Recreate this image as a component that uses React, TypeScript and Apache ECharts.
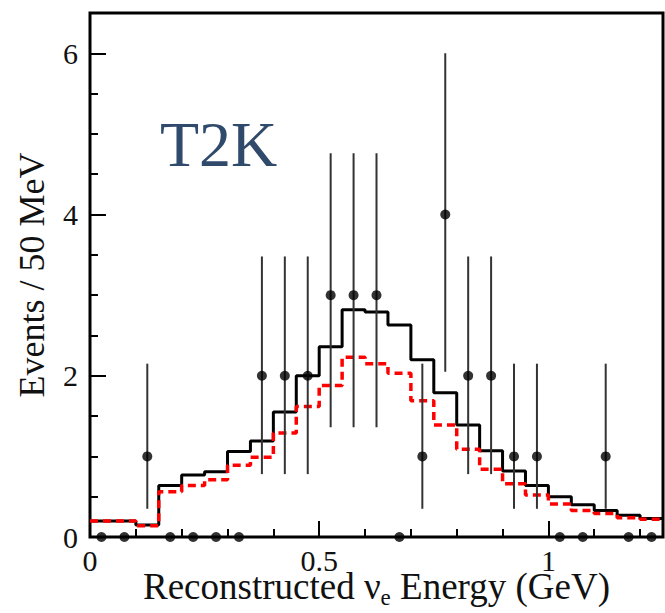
import React, { useEffect, useRef } from "react";
import * as echarts from "echarts";

// Bin edges of the 50 MeV bins (GeV)
const binEdges = [
  0, 0.05, 0.1, 0.15, 0.2, 0.25, 0.3, 0.35, 0.4, 0.45, 0.5, 0.55, 0.6, 0.65,
  0.7, 0.75, 0.8, 0.85, 0.9, 0.95, 1.0, 1.05, 1.1, 1.15, 1.2, 1.25,
];
// Total expectation (black solid histogram)
const totalExpected = [
  0.2, 0.2, 0.15, 0.64, 0.77, 0.81, 1.06, 1.19, 1.55, 2.0, 2.36, 2.82, 2.79,
  2.63, 2.2, 1.79, 1.39, 1.07, 0.82, 0.64, 0.5, 0.4, 0.33, 0.27, 0.23,
];
// Signal expectation (red dashed histogram)
const signalExpected = [
  0.2, 0.2, 0.14, 0.56, 0.64, 0.71, 0.89, 0.99, 1.29, 1.62, 1.88, 2.23, 2.15,
  2.03, 1.69, 1.39, 1.09, 0.84, 0.66, 0.52, 0.41, 0.33, 0.29, 0.24, 0.22,
];
// Observed events per bin
const observed = [
  0, 0, 1, 0, 0, 0, 0, 2, 2, 2, 3, 3, 3, 0, 1, 4, 2, 2, 1, 1, 0, 0, 1, 0, 0,
];
// Error bar ends for observed counts 1..4
const countValues = [1, 2, 3, 4];
const errLowByCount = [0.35, 0.78, 1.36, 2.05];
const errHighByCount = [2.15, 3.48, 4.76, 6.0];

const xMajorTicks = [0, 0.5, 1];
const xMinorTicks = [0.1, 0.2, 0.3, 0.4, 0.6, 0.7, 0.8, 0.9, 1.1, 1.2];
const yMajorTicks = [0, 2, 4, 6];
const yMinorTicks = [0.5, 1, 1.5, 2.5, 3, 3.5, 4.5, 5, 5.5];

const SERIF = '"Liberation Serif", "Times New Roman", serif';

function stepData(values: number[]) {
  return binEdges.map((x, i) => [x, values[Math.min(i, values.length - 1)]]);
}

export default function App() {
  const ref = useRef<HTMLDivElement>(null);

  useEffect(() => {
    document.body.style.margin = "0";
    if (!ref.current) return;
    const chart = echarts.init(ref.current, undefined, { renderer: "svg" });

    const centers = observed.map((_, i) => (binEdges[i] + binEdges[i + 1]) / 2);
    const points = observed.map((v, i) => [centers[i], v]);
    const errors = observed
      .map((v, i) => {
        const k = countValues.indexOf(v);
        if (k < 0) return null;
        return [centers[i], errLowByCount[k], errHighByCount[k]];
      })
      .filter((d) => d !== null) as number[][];

    const tickStyle = { color: "#000", width: 2 };

    chart.setOption({
      animation: false,
      backgroundColor: "#fff",
      grid: {
        left: 90,
        right: 2,
        top: 13,
        bottom: 76,
        show: true,
        borderColor: "#000",
        borderWidth: 3,
        backgroundColor: "transparent",
        outerBoundsMode: "none",
        containLabel: false,
      },
      xAxis: [
        {
          type: "value",
          min: 0,
          max: 1.25,
          position: "bottom",
          axisLine: { show: false },
          splitLine: { show: false },
          axisTick: {
            show: true,
            inside: true,
            length: 16,
            lineStyle: tickStyle,
            customValues: xMajorTicks,
          },
          axisLabel: {
            customValues: xMajorTicks,
            fontFamily: SERIF,
            fontSize: 30,
            lineHeight: 22,
            color: "#111",
            margin: 12,
          },
          name: "Reconstructed ν{sub|e} Energy (GeV)",
          nameLocation: "middle",
          nameGap: 32,
          nameMoveOverlap: false,
          nameTextStyle: {
            fontFamily: SERIF,
            fontSize: 37,
            lineHeight: 34,
            color: "#111",
            rich: {
              sub: {
                fontFamily: SERIF,
                fontSize: 23,
                lineHeight: 18,
                color: "#111",
                padding: [22, 0, 0, 0],
              },
            },
          },
        },
        {
          type: "value",
          min: 0,
          max: 1.25,
          position: "bottom",
          axisLine: { show: false },
          splitLine: { show: false },
          axisLabel: { show: false },
          axisTick: {
            show: true,
            inside: true,
            length: 8,
            lineStyle: tickStyle,
            customValues: xMinorTicks,
          },
        },
      ],
      yAxis: [
        {
          type: "value",
          min: 0,
          max: 6.5,
          position: "left",
          axisLine: { show: false },
          splitLine: { show: false },
          axisTick: {
            show: true,
            inside: true,
            length: 16,
            lineStyle: tickStyle,
            customValues: yMajorTicks,
          },
          axisLabel: {
            customValues: yMajorTicks,
            fontFamily: SERIF,
            fontSize: 30,
            color: "#111",
            margin: 12,
          },
          name: "Events / 50 MeV",
          nameLocation: "middle",
          nameRotate: 90,
          nameGap: 40,
          nameMoveOverlap: false,
          nameTextStyle: { fontFamily: SERIF, fontSize: 36, color: "#111" },
        },
        {
          type: "value",
          min: 0,
          max: 6.5,
          position: "left",
          axisLine: { show: false },
          splitLine: { show: false },
          axisLabel: { show: false },
          axisTick: {
            show: true,
            inside: true,
            length: 8,
            lineStyle: tickStyle,
            customValues: yMinorTicks,
          },
        },
      ],
      graphic: [
        {
          type: "text",
          left: 160,
          top: 112,
          style: {
            text: "T2K",
            fill: "#2f4a6b",
            font: `64px ${SERIF}`,
          },
        },
      ],
      series: [
        {
          type: "line",
          name: "Total expected",
          step: "end",
          data: stepData(totalExpected),
          showSymbol: false,
          lineStyle: { color: "#000", width: 3 },
          z: 2,
        },
        {
          type: "line",
          name: "Signal expected",
          step: "end",
          data: stepData(signalExpected),
          showSymbol: false,
          lineStyle: { color: "#ff0000", width: 3.5, type: [8, 5] },
          z: 3,
        },
        {
          type: "custom",
          name: "Errors",
          data: errors,
          z: 4,
          renderItem: (params: any, api: any) => {
            const lo = api.coord([api.value(0), api.value(1)]);
            const hi = api.coord([api.value(0), api.value(2)]);
            return {
              type: "line",
              shape: { x1: lo[0], y1: lo[1], x2: hi[0], y2: hi[1] },
              style: { stroke: "#333", lineWidth: 2 },
            };
          },
        },
        {
          type: "scatter",
          name: "Data",
          data: points,
          symbol: "circle",
          symbolSize: 10,
          itemStyle: { color: "#000" },
          clip: false,
          z: 5,
        },
      ],
    });

    return () => chart.dispose();
  }, []);

  return <div ref={ref} style={{ width: 665, height: 613 }} />;
}
